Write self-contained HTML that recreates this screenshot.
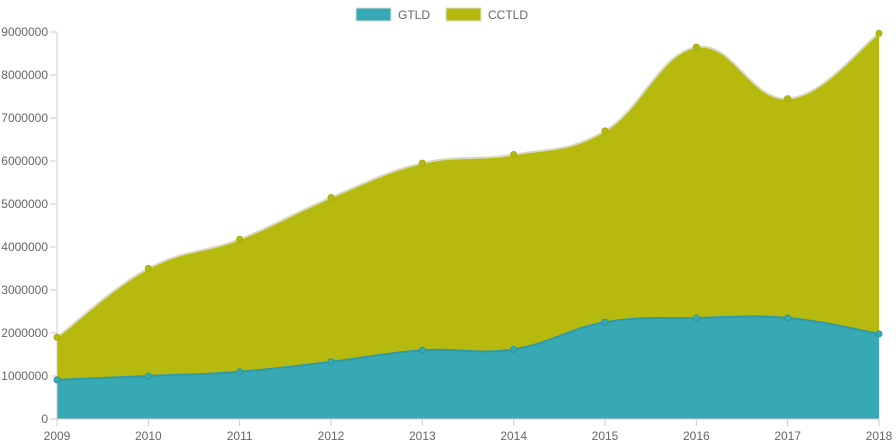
<!DOCTYPE html>
<html><head><meta charset="utf-8"><style>
html,body{margin:0;padding:0;background:#fff;width:896px;height:447px;overflow:hidden}
svg{display:block;font-family:"Liberation Sans",sans-serif}
</style></head><body>
<svg id="s" width="896" height="447" viewBox="0 0 896 447">
<rect x="356" y="8" width="35" height="13" fill="#37a9b5" stroke="#ddd"/>
<text x="398" y="19" font-size="12" fill="#666">GTLD</text>
<rect x="446" y="8" width="35" height="13" fill="#b7ba0e" stroke="#ddd"/>
<text x="488" y="19" font-size="12" fill="#666">CCTLD</text>
<g id="g"></g>
</svg>
<script>
var ns="http://www.w3.org/2000/svg",g=document.getElementById('g');
function el(t,a,txt){var e=document.createElementNS(ns,t);for(var k in a)e.setAttribute(k,a[k]);if(txt!=null)e.textContent=txt;g.appendChild(e);return e;}
var x0=57,x1=879,y0=419,pm=43;
var gt=[0.91,1.0,1.1,1.33,1.6,1.62,2.25,2.35,2.35,1.98];
var cc=[1.9,3.5,4.18,5.15,5.95,6.15,6.7,8.65,7.45,8.97];
function X(i){return x0+i*(x1-x0)/9}
function Y(v){return y0-v*pm}
function path(vals){
 var p=vals.map(function(v,i){return [X(i),Y(v)]});
 var d="M"+p[0][0]+","+p[0][1],t=0.4;
 for(var i=0;i<p.length-1;i++){
  var a=p[i-1]||p[i],b=p[i],c=p[i+1],e=p[i+2]||c;
  var c1=[b[0]+(c[0]-a[0])*t/2,b[1]+(c[1]-a[1])*t/2];
  var c2=[c[0]-(e[0]-b[0])*t/2,c[1]-(e[1]-b[1])*t/2];
  d+=" C"+c1+" "+c2+" "+c;
 }
 return d;
}
// y axis labels
for(var k=0;k<=9;k++){var y=Y(k);el('text',{x:48,y:y+4,'font-size':12,fill:'#666','text-anchor':'end'},k==0?'0':(k*1000000)+'');
 el('line',{x1:50,x2:57,y1:y,y2:y,stroke:'#ccc'});}
var dc=path(cc),dg=path(gt);
el('path',{d:dc+" L"+x1+","+y0+" L"+x0+","+y0+" Z",fill:'#b7ba0e'});
el('path',{d:dc,fill:'none',stroke:'#d8d8c0','stroke-width':2});
el('path',{d:dg+" L"+x1+","+y0+" L"+x0+","+y0+" Z",fill:'#37a9b5'});
el('path',{d:dg,fill:'none',stroke:'#2f9aa6','stroke-width':2});
el('line',{x1:x0,x2:x0,y1:32,y2:y0+7,stroke:'#ccc'});
el('line',{x1:x0,x2:x1,y1:y0,y2:y0,stroke:'#ccc'});
for(var i=0;i<10;i++){
 el('circle',{cx:X(i),cy:Y(cc[i]),r:3,fill:'#b7ba0e',stroke:'#a5a80c'});
 el('circle',{cx:X(i),cy:Y(gt[i]),r:3,fill:'#37a9b5',stroke:'#2a95a0'});
 el('line',{x1:X(i),x2:X(i),y1:y0,y2:y0+7,stroke:'#ccc'});
 el('text',{x:X(i),y:440,'font-size':12,fill:'#666','text-anchor':'middle'},2009+i);
}
</script>
</body></html>
